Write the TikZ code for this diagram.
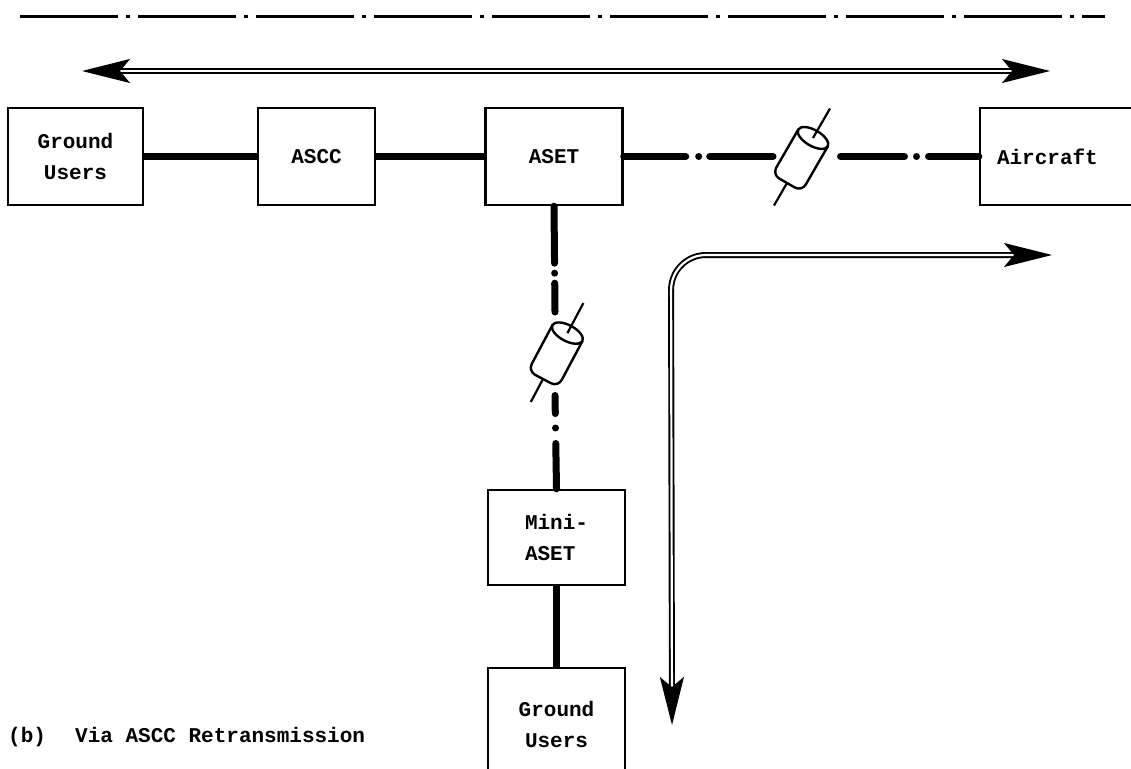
\documentclass[tikz,border=0pt]{standalone}
\usepackage{fontspec}
\newfontfamily\tw{Liberation Mono}
\usetikzlibrary{arrows.meta}
\tikzset{
  box/.style={draw, line width=2.4pt, fill=white, inner sep=0pt, align=center,
    font=\tw\bfseries\fontsize{21}{31}\selectfont},
  solidconn/.style={line width=7.5pt},
  dashconn/.style={line width=7pt, line cap=round},
  dbl/.style={double, line width=1.9pt, double distance=2.2pt},
  bigtip/.tip={Stealth[length=48pt, width=24pt, inset=10pt]},
  caption/.style={font=\tw\bfseries\fontsize{21}{31}\selectfont, inner sep=0pt, anchor=base west},
  cyl/.pic={
    \draw[line width=2.2pt] (-26pt,0pt) -- (0pt,0pt);
    \draw[line width=2.4pt, fill=white, rounded corners=8pt]
      (52pt,17pt) -- (0pt,17pt) -- (0pt,-17pt) -- (52pt,-17pt);
    \draw[line width=2.4pt, fill=white] (52pt,0pt) ellipse [x radius=8pt, y radius=17pt];
    \draw[line width=2.2pt] (52pt,0pt) -- (86pt,0pt);
  }
}
\begin{document}
\begin{tikzpicture}[x=1pt, y=-1pt]
\useasboundingbox (0,0) rectangle (1131,768);
\clip (0,0) rectangle (1131,768);

% top dash-dot line
\coordinate (tl) at (20,17);
\coordinate (tr) at (1105,17);
\draw[line width=3pt, dash pattern=on 98pt off 8pt on 4pt off 8pt] (tl) -- (tr);

% double arrow
\coordinate (al) at (82,71);
\coordinate (ar) at (1050,71);
\draw[dbl, bigtip-bigtip] (al) -- (ar);

% boxes
\node[box, minimum width=135pt, minimum height=97pt] (gu1) at (75.5,156.5) {Ground\\Users};
\node[box, minimum width=117pt, minimum height=97pt] (ascc) at (316.5,156.5) {ASCC};
\node[box, minimum width=137pt, minimum height=97pt] (aset) at (554,156.5) {ASET};
\node[box, minimum height=97pt, text width=136pt, inner xsep=17pt, align=left] (air) at (1065,156.5) {Aircraft};
\node[box, minimum width=137pt, minimum height=95pt, align=left] (mini) at (556.5,537.5) {Mini-\\ASET};
\node[box, minimum width=137pt, minimum height=112pt] (gu2) at (556.5,724) {Ground\\Users};

% solid connectors
\draw[solidconn] (gu1.east) -- (ascc.west);
\draw[solidconn] (ascc.east) -- (aset.west);
\draw[solidconn] (mini.south) -- (gu2.north);

% horizontal radio link
\coordinate (cylA) at (800,160);
\coordinate (cylAw) at (773,156.5);
\coordinate (cylAe) at (840.5,156.5);
\draw[dashconn, dash pattern=on 62pt off 13pt on 0pt off 11pt on 300pt] (aset.east) -- (cylAw);
\draw[dashconn, dash pattern=on 64pt off 12pt on 0pt off 12pt on 300pt] (cylAe) -- (air.west);
\pic[rotate=60] at (787,183) {cyl};

% vertical radio link
\coordinate (cylB) at (555,358);
\coordinate (cylBn) at (555,312);
\coordinate (cylBs) at (555,395.5);
\draw[dashconn, dash pattern=on 57pt off 10pt on 0pt off 10pt on 200pt] (aset.south) -- (cylBn);
\draw[dashconn, dash pattern=on 18pt off 14.5pt on 0pt off 15.5pt on 200pt] (cylBs) -- (mini.north);
\pic[rotate=62] at (543,379) {cyl};

% L-shaped double arrow
\coordinate (ld) at (672,725);
\coordinate (lc) at (671,255);
\coordinate (lr) at (1052,255);
\draw[dbl, rounded corners=35pt, bigtip-bigtip] (ld) -- (lc) -- (lr);

% caption
\node[caption] (capb) at (8,742) {(b)};
\node[caption] (capt) at (75,742) {Via ASCC Retransmission};
\end{tikzpicture}
\end{document}
